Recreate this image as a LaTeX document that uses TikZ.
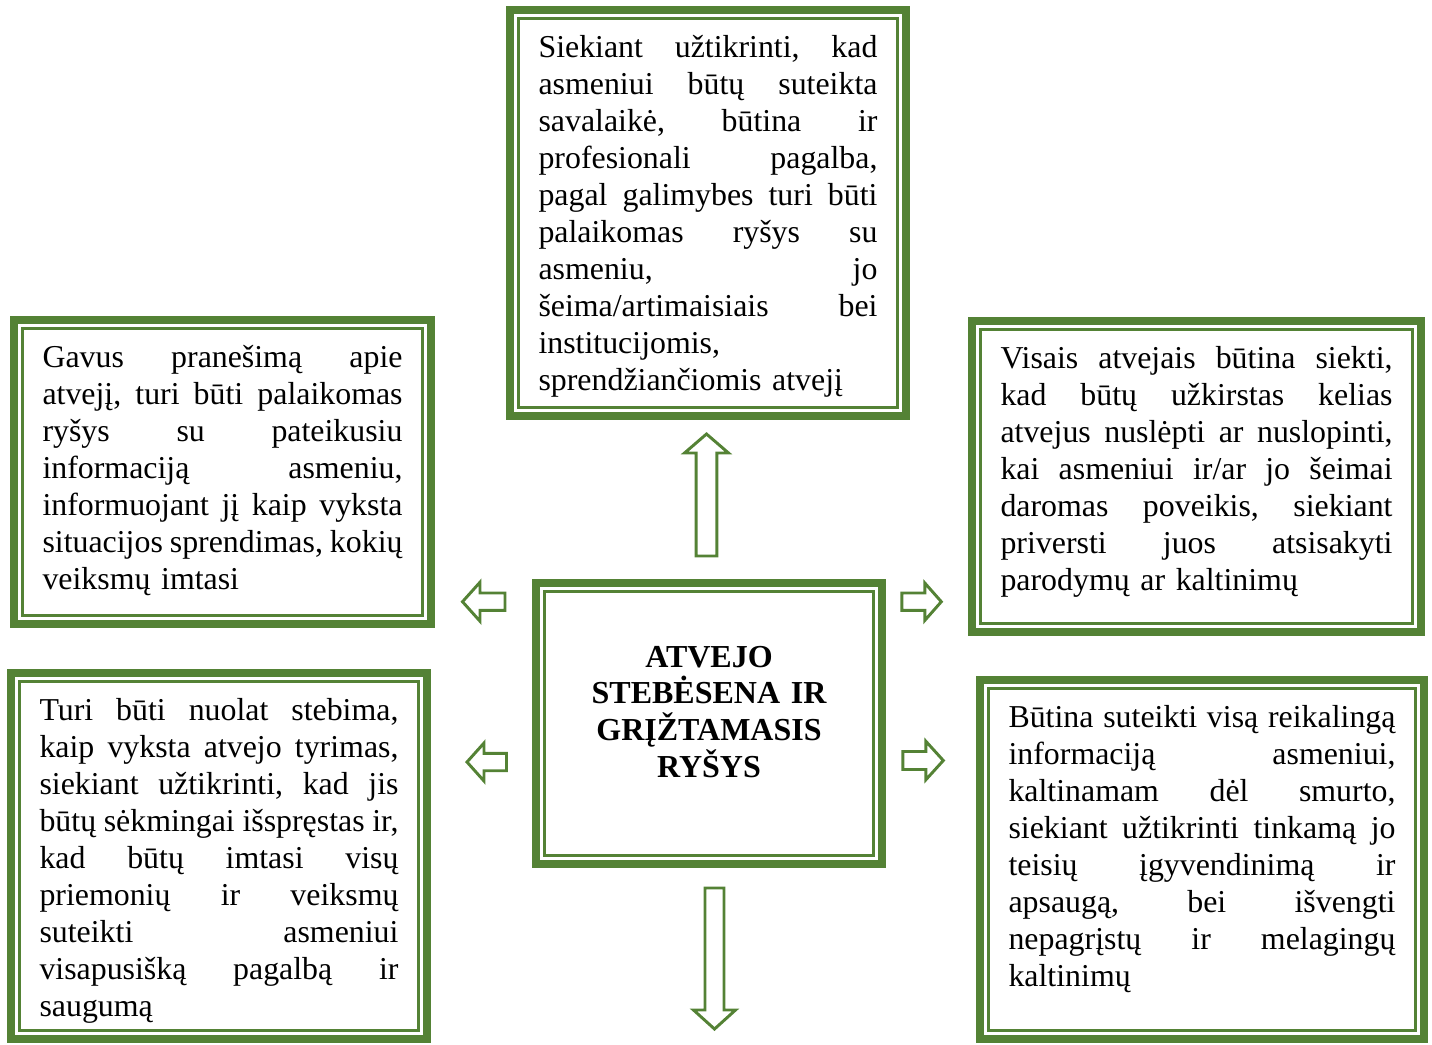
\documentclass[tikz,border=0pt]{standalone}
\usepackage{fontspec}
\setmainfont{Liberation Serif}
\definecolor{leaf}{RGB}{84,130,53}
\newcommand\colw{100pt}
\newcommand\jl[1]{\leavevmode{\frenchspacing\spaceskip=.25em plus 1fil minus .1em%
  \hbox to \colw{#1}}\\}
\tikzset{
  frame/.style={draw=leaf, line width=3pt, anchor=north west, inner xsep=10.7pt,
    inner ysep=0pt, outer sep=0pt, text height=17.8pt,
    font=\fontsize{11.95}{13.875}\selectfont},
  col/.style={text width=#1, execute at begin node={\renewcommand\colw{#1}}},
  innerline/.style={draw=leaf, line width=1.1pt},
  arrowline/.style={draw=leaf, line width=1.1pt, line join=miter},
  pics/hollow arrow/.style n args={4}{code={
    \draw[arrowline] (0,0) -- (-#2,#3) -- (-#2,#4) -- (-#1,#4) -- (-#1,-#4)
      -- (-#2,-#4) -- (-#2,-#3) -- cycle;}}
}
\begin{document}
\begin{tikzpicture}[x=0.375pt,y=-0.375pt]
  \useasboundingbox (0,0) rectangle (1432,1044);
  % text boxes
  \node[frame, col=127.1pt, text depth=134.45pt] (help) at (510,10) {%
    \jl{Siekiant užtikrinti, kad}
    \jl{asmeniui būtų suteikta}
    \jl{savalaikė, būtina ir}
    \jl{profesionali pagalba,}
    \jl{pagal galimybes turi būti}
    \jl{palaikomas ryšys su}
    \jl{asmeniu, jo}
    \jl{šeima/artimaisiais bei}
    institucijomis,\\
    sprendžiančiomis atvejį};
  \node[frame, col=135pt, text depth=96.2pt] (notice) at (14,320) {%
    \jl{Gavus pranešimą apie}
    \jl{atvejį, turi būti palaikomas}
    \jl{ryšys su pateikusiu}
    \jl{informaciją asmeniu,}
    \jl{informuojant jį kaip vyksta}
    \jl{situacijos sprendimas, kokių}
    veiksmų imtasi};
  \node[frame, col=147pt, text depth=98.8pt] (prevent) at (972,321) {%
    \jl{Visais atvejais būtina siekti,}
    \jl{kad būtų užkirstas kelias}
    \jl{atvejus nuslėpti ar nuslopinti,}
    \jl{kai asmeniui ir/ar jo šeimai}
    \jl{daromas poveikis, siekiant}
    \jl{priversti juos atsisakyti}
    parodymų ar kaltinimų};
  \node[frame, col=134.6pt, text depth=119.45pt] (monitor) at (11,673) {%
    \jl{Turi būti nuolat stebima,}
    \jl{kaip vyksta atvejo tyrimas,}
    \jl{siekiant užtikrinti, kad jis}
    \jl{būtų sėkmingai išspręstas ir,}
    \jl{kad būtų imtasi visų}
    \jl{priemonių ir veiksmų}
    \jl{suteikti asmeniui}
    \jl{visapusišką pagalbą ir}
    saugumą};
  \node[frame, col=145.1pt, text depth=116.8pt] (inform) at (980,680) {%
    \jl{Būtina suteikti visą reikalingą}
    \jl{informaciją asmeniui,}
    \jl{kaltinamam dėl smurto,}
    \jl{siekiant užtikrinti tinkamą jo}
    \jl{teisių įgyvendinimą ir}
    \jl{apsaugą, bei išvengti}
    \jl{nepagrįstų ir melagingų}
    kaltinimų};
  \node[frame, text width=108.35pt, text height=31.5pt, text depth=73.9pt,
    align=center, font=\fontsize{12}{13.8}\selectfont\bfseries] (core) at (536,583)
    {ATVEJO\\STEBĖSENA IR\\GRĮŽTAMASIS\\RYŠYS};
  % thin inner frames
  \foreach \n in {help,notice,prevent,monitor,inform,core}
    \draw[innerline] ([shift={(3.3pt,-3.3pt)}]\n.north west)
      rectangle ([shift={(-3.3pt,3.3pt)}]\n.south east);
  % block arrows
  \pic[rotate=90] (up) at (706.5,434) {hollow arrow={122}{19}{22}{10.3}};
  \pic[rotate=-90] (down) at (714.5,1029) {hollow arrow={141}{19}{21}{9.5}};
  \pic[rotate=180] (lefta) at (462.5,601.7) {hollow arrow={42.5}{17.5}{19.5}{8.7}};
  \pic[rotate=180] (leftb) at (467,762) {hollow arrow={39.5}{17}{19}{8.7}};
  \pic (righta) at (941.3,601.7) {hollow arrow={39.5}{16.5}{18.7}{8.7}};
  \pic (rightb) at (943.3,760.5) {hollow arrow={40.5}{17.5}{19.3}{9}};
\end{tikzpicture}
\end{document}
